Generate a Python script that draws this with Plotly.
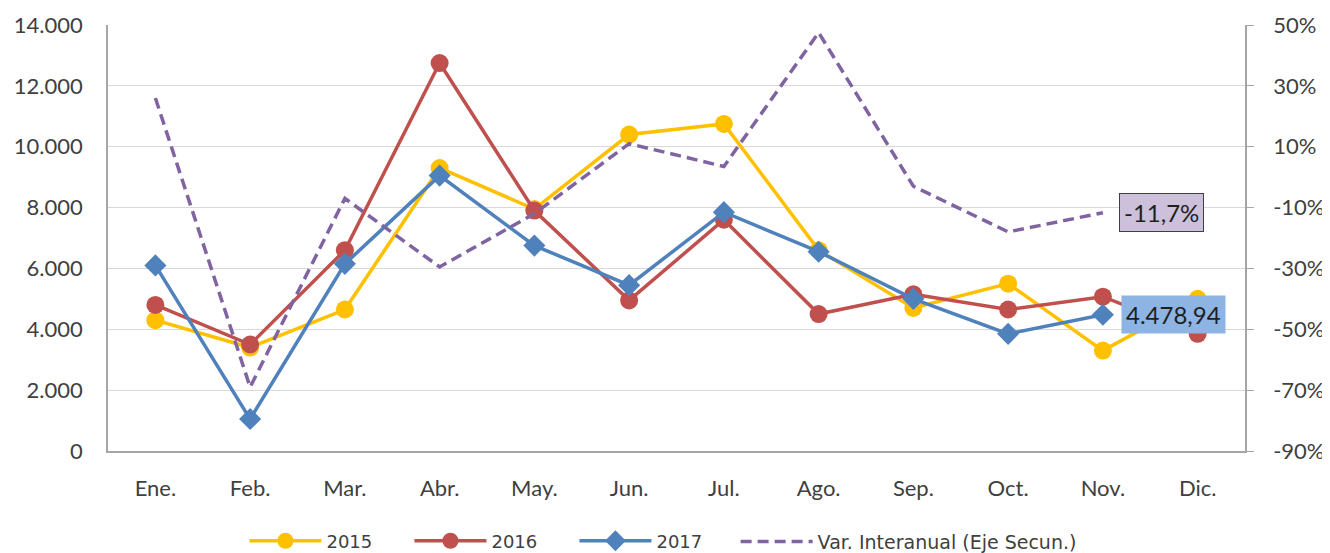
import plotly.graph_objects as go

months = ["Ene.", "Feb.", "Mar.", "Abr.", "May.", "Jun.", "Jul.", "Ago.", "Sep.", "Oct.", "Nov.", "Dic."]
v2015 = [4300, 3400, 4650, 9300, 7950, 10400, 10750, 6600, 4700, 5500, 3300, 5000]
v2016 = [4800, 3500, 6600, 12750, 7900, 4950, 7600, 4500, 5150, 4650, 5070, 3850]
v2017 = [6100, 1050, 6150, 9050, 6750, 5450, 7850, 6550, 5000, 3850, 4478.94]
var_interanual = [26, -69, -7, -29.5, -12, 11, 3.5, 47.5, -3, -18, -11.7]

left_ticks = [0, 2000, 4000, 6000, 8000, 10000, 12000, 14000]
left_labels = ["0", "2.000", "4.000", "6.000", "8.000", "10.000", "12.000", "14.000"]
right_ticks = [-90, -70, -50, -30, -10, 10, 30, 50]
right_labels = [f"{t}%" for t in right_ticks]

FONT = "Lato, sans-serif"
LEG_FONT = "DejaVu Sans, sans-serif"

fig = go.Figure()
fig.add_trace(go.Scatter(x=months, y=v2015, name="2015", mode="lines+markers",
                         line=dict(color="#FFC000", width=3.5),
                         marker=dict(symbol="circle", size=18, color="#FFC000")))
fig.add_trace(go.Scatter(x=months, y=v2016, name="2016", mode="lines+markers",
                         line=dict(color="#C0504D", width=3.5),
                         marker=dict(symbol="circle", size=18, color="#C0504D")))
fig.add_trace(go.Scatter(x=months[:len(v2017)], y=v2017, name="2017", mode="lines+markers",
                         line=dict(color="#4F81BD", width=3.5),
                         marker=dict(symbol="diamond", size=17, color="#4F81BD")))
fig.add_trace(go.Scatter(x=months[:len(var_interanual)], y=var_interanual,
                         name="Var. Interanual (Eje Secun.)", mode="lines", yaxis="y2",
                         legend="legend2",
                         line=dict(color="#8064A2", width=3.5, dash="11px,6px")))

last_i = len(v2017) - 1
fig.add_annotation(x=months[last_i], y=v2017[last_i], xref="x", yref="y",
                   text=f"{v2017[last_i]:,.2f}".replace(",", "X").replace(".", ",").replace("X", "."),
                   showarrow=False, xanchor="left", xshift=18,
                   font=dict(family=FONT, size=24, color="#1f1f1f"),
                   bgcolor="#8DB4E2", borderpad=4)
fig.add_annotation(x=months[len(var_interanual) - 1], y=var_interanual[-1], xref="x", yref="y2",
                   text=f"{var_interanual[-1]:.1f}%".replace(".", ","),
                   showarrow=False, xanchor="left", xshift=16,
                   font=dict(family=FONT, size=24, color="#1f1f1f"),
                   bgcolor="#CCC0DA", bordercolor="#404040", borderwidth=1, borderpad=4)

fig.update_layout(
    width=1322, height=545,
    margin=dict(l=100, r=85, t=17, b=102, autoexpand=False),
    plot_bgcolor="white", paper_bgcolor="white",
    font=dict(family=FONT, size=22, color="#404040"),
    showlegend=True,
    legend=dict(orientation="h", x=0.12, xanchor="left", y=-0.168, yanchor="top",
                font=dict(family=LEG_FONT, size=18, color="#404040"),
                itemwidth=72, entrywidth=78, traceorder="normal"),
    legend2=dict(orientation="h", x=0.552, xanchor="left", y=-0.168, yanchor="top",
                 font=dict(family=LEG_FONT, size=19, color="#404040"),
                 itemwidth=72),
    xaxis=dict(type="category", range=[-0.5, 11.5], showgrid=False,
               showline=True, linecolor="#A6A6A6", linewidth=1.5,
               ticks="", tickfont=dict(size=22), ticklabelstandoff=17),
    yaxis=dict(range=[0, 14000], tickvals=left_ticks, ticktext=left_labels,
               showgrid=True, gridcolor="#D9D9D9", gridwidth=1,
               showline=True, linecolor="#A6A6A6", linewidth=1.5,
               zeroline=False, ticks="", tickfont=dict(size=22), ticklabelstandoff=19),
    yaxis2=dict(range=[-90, 50], tickvals=right_ticks, ticktext=right_labels,
                overlaying="y", side="right", showgrid=False,
                showline=True, linecolor="#A6A6A6", linewidth=1.5,
                zeroline=False, ticks="outside", ticklen=7, tickcolor="#A6A6A6",
                tickfont=dict(size=22), ticklabelstandoff=15),
)

fig.write_html("out.html")
